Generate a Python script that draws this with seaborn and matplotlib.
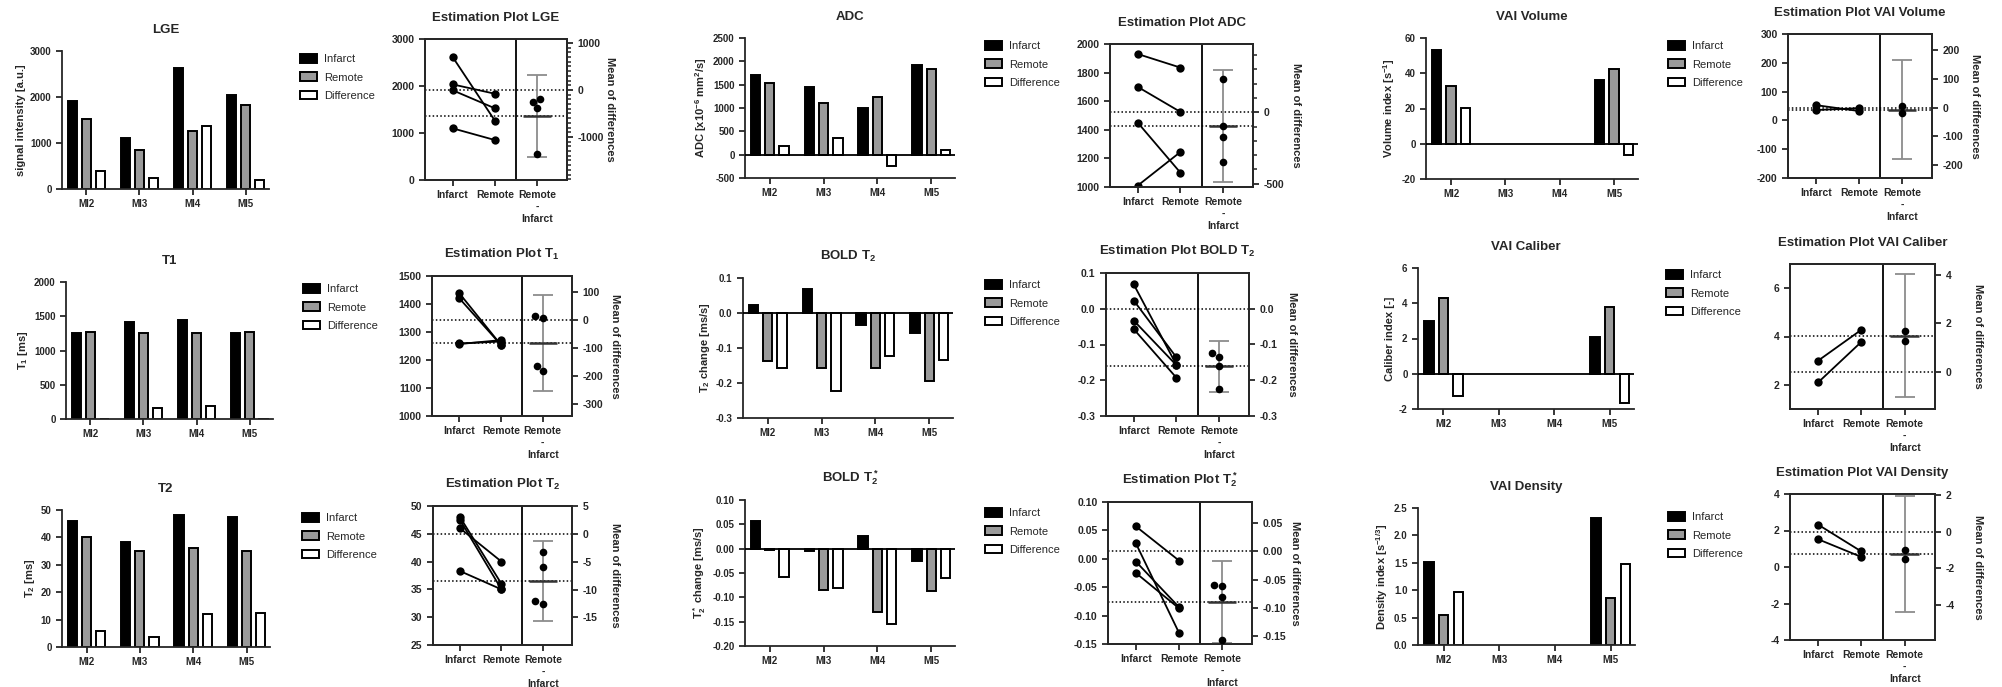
import numpy as np
import pandas as pd
import matplotlib
matplotlib.use('Agg')
import matplotlib.pyplot as plt
from matplotlib.ticker import MultipleLocator, FormatStrFormatter
import seaborn as sns

# data (MI2..MI5)
cases = ['MI2', 'MI3', 'MI4', 'MI5']
groups = ['Infarct', 'Remote', 'Difference']

lge_infarct = [1910, 1100, 2620, 2035]
lge_remote = [1525, 850, 1260, 1835]
lge_diff = [385, 250, 1360, 200]

t1_infarct = [1259, 1421, 1439, 1257]
t1_remote = [1266, 1254, 1254, 1271]
t1_diff = [-7, 167, 185, -14]

t2_infarct = [46, 38.3, 48, 47.5]
t2_remote = [40, 35, 36, 35]
t2_diff = [6, 3.5, 12, 12.5]

adc_infarct = [1700, 1450, 1010, 1930]
adc_remote = [1525, 1100, 1245, 1835]
adc_diff = [175, 350, -235, 95]

bold_infarct = [0.023, 0.068, -0.033, -0.057]
bold_remote = [-0.136, -0.157, -0.158, -0.193]
bold_diff = [-0.158, -0.224, -0.124, -0.135]

bolds_infarct = [0.057, -0.005, 0.027, -0.025]
bolds_remote = [-0.003, -0.085, -0.13, -0.087]
bolds_diff = [-0.058, -0.08, -0.155, -0.061]

vol_infarct = [53, np.nan, np.nan, 36]
vol_remote = [32.5, np.nan, np.nan, 42.5]
vol_diff = [20.5, np.nan, np.nan, -6.5]

cal_infarct = [3.0, np.nan, np.nan, 2.1]
cal_remote = [4.28, np.nan, np.nan, 3.78]
cal_diff = [-1.25, np.nan, np.nan, -1.65]

den_infarct = [1.52, np.nan, np.nan, 2.32]
den_remote = [0.55, np.nan, np.nan, 0.85]
den_diff = [0.97, np.nan, np.nan, 1.47]

bar_colors = {'Infarct': 'black', 'Remote': '#9a9a9a', 'Difference': 'white'}
t_crit = {2: 12.706, 3: 4.303, 4: 3.182}

sns.set_style('ticks')
plt.rcParams['font.family'] = ['Liberation Sans', 'DejaVu Sans']
plt.rcParams['font.weight'] = 'bold'
plt.rcParams['axes.labelweight'] = 'bold'
plt.rcParams['axes.titleweight'] = 'bold'
plt.rcParams['mathtext.default'] = 'regular'
plt.rcParams['axes.unicode_minus'] = False
plt.rcParams['axes.linewidth'] = 1.3

W, H = 2002, 687
fig = plt.figure(figsize=(W / 100, H / 100), dpi=100, facecolor='white')


def frac(box):
    l, t, r, b = box
    return [l / W, 1 - b / H, (r - l) / W, (b - t) / H]


def bar_panel(box, title, ylabel, infarct, remote, diff, ylim, step, fmt, leg_xy):
    ax = fig.add_axes(frac(box))
    df = pd.DataFrame({'case': cases * 3,
                       'group': np.repeat(groups, len(cases)),
                       'value': list(infarct) + list(remote) + list(diff)}).dropna()
    sns.barplot(data=df, x='case', y='value', hue='group', order=cases, hue_order=groups,
                palette=bar_colors, saturation=1, width=0.8, gap=0.35, errorbar=None,
                edgecolor='black', linewidth=1.4, ax=ax)
    if ylim[0] < 0:
        ax.axhline(0, color='black', lw=1.3, zorder=3)
    ax.set_ylim(ylim)
    ax.set_xlim(-0.46, 3.44)
    ax.yaxis.set_major_locator(MultipleLocator(step))
    ax.yaxis.set_major_formatter(FormatStrFormatter(fmt))
    ax.tick_params(length=4, width=1.3, labelsize=7)
    ax.set_xlabel('')
    ax.set_ylabel(ylabel, fontsize=8, labelpad=3)
    ax.set_title(title, fontsize=9.5, pad=13)
    sns.despine(ax=ax)
    sns.move_legend(ax, 'upper left', bbox_to_anchor=(leg_xy[0] / W, 1 - leg_xy[1] / H),
                    bbox_transform=fig.transFigure, frameon=False, title=None,
                    prop={'weight': 'normal', 'size': 8}, handlelength=1.5, handleheight=0.8,
                    handletextpad=0.7, labelspacing=0.75, borderpad=0, borderaxespad=0)
    return ax


def est_panel(box, title, infarct, remote, ylim, step, fmt, rstep, rfmt, rminor=None):
    ax = fig.add_axes(frac(box))
    inf = np.array(infarct, float)
    rem = np.array(remote, float)
    keep = ~np.isnan(inf)
    inf, rem = inf[keep], rem[keep]
    n = len(inf)
    d = rem - inf
    pairs = pd.DataFrame({'case': np.tile(np.arange(n), 2),
                          'pos': np.repeat([0, 1], n),
                          'value': np.concatenate([inf, rem])})
    sns.lineplot(data=pairs, x='pos', y='value', units='case', estimator=None, color='black',
                 lw=1.3, marker='o', markersize=6, markeredgewidth=0, legend=False, ax=ax)
    base = inf.mean()
    mean_d = d.mean()
    ax.axhline(base, ls=(0, (1, 1.5)), color='black', lw=1.1)
    ax.axhline(base + mean_d, ls=(0, (1, 1.5)), color='black', lw=1.1)
    ax.axvline(1.5, color='black', lw=1.3)

    ax2 = ax.twinx()
    half = t_crit[n] * d.std(ddof=1) / np.sqrt(n)
    ax2.errorbar(2, mean_d, yerr=half, color='#8c8c8c', capsize=7, lw=1.3, capthick=1.3, zorder=1)
    ax2.hlines(mean_d, 2 - 0.33, 2 + 0.33, color='#333333', lw=1.8, zorder=2)
    sns.swarmplot(x=np.full(n, 2.0), y=d, native_scale=True, orient='x', color='black',
                  size=5.5, ax=ax2, zorder=3)

    ax.set_ylim(ylim)
    ax2.set_ylim(ylim[0] - base, ylim[1] - base)
    ax.set_xlim(-0.65, 2.7)
    ax.set_xticks([0, 1, 2], ['Infarct', 'Remote', 'Remote\n-\nInfarct'])
    ax.yaxis.set_major_locator(MultipleLocator(step))
    ax.yaxis.set_major_formatter(FormatStrFormatter(fmt))
    ax2.yaxis.set_major_locator(MultipleLocator(rstep))
    ax2.yaxis.set_major_formatter(FormatStrFormatter(rfmt))
    if rminor:
        ax2.yaxis.set_minor_locator(MultipleLocator(rminor))
        ax2.tick_params(which='minor', length=3, width=1.1)
    ax.tick_params(length=4, width=1.3, labelsize=7.5)
    ax2.tick_params(which='major', length=4, width=1.3, labelsize=7.5)
    ax.set_xlabel('')
    ax.set_ylabel('')
    ax2.set_ylabel('Mean of differences', rotation=270, fontsize=8, va='center', ha='center')
    ax2.yaxis.set_label_coords(1 + 43 / (box[2] - box[0]), 0.5)
    ax.set_title(title, fontsize=9.5, pad=13)
    return ax


# row 1
bar_panel((62, 51, 269, 189), 'LGE', 'signal intensity [a.u.]',
          lge_infarct, lge_remote, lge_diff, (0, 3000), 1000, '%d', (300, 54))
est_panel((425, 39, 567, 180), 'Estimation Plot LGE', lge_infarct, lge_remote,
          (0, 3000), 1000, '%d', 1000, '%d', rminor=100)
bar_panel((745, 38, 955, 178), 'ADC', 'ADC [x10$^{-6}$ mm$^2$/s]',
          adc_infarct, adc_remote, adc_diff, (-500, 2500), 500, '%d', (985, 41))
est_panel((1110, 44, 1253, 187), 'Estimation Plot ADC', adc_infarct, adc_remote,
          (1000, 2000), 200, '%d', 500, '%d', rminor=100)
bar_panel((1426, 38, 1638, 179), 'VAI Volume', 'Volume index [s$^{-1}$]',
          vol_infarct, vol_remote, vol_diff, (-20, 60), 20, '%d', (1668, 41))
est_panel((1788, 34, 1932, 178), 'Estimation Plot VAI Volume', vol_infarct, vol_remote,
          (-200, 300), 100, '%d', 100, '%d')

# row 2
bar_panel((66, 282, 273, 419), 'T1', 'T$_1$ [ms]',
          t1_infarct, t1_remote, t1_diff, (0, 2000), 500, '%d', (303, 284))
est_panel((432, 276, 572, 416), 'Estimation Plot T$_1$', t1_infarct, t1_remote,
          (1000, 1500), 100, '%d', 100, '%d')
bar_panel((743, 278, 953, 418), 'BOLD T$_2$', 'T$_2$ change [ms/s]',
          bold_infarct, bold_remote, bold_diff, (-0.3, 0.1), 0.1, '%.1f', (985, 280))
est_panel((1106, 273, 1249, 416), 'Estimation Plot BOLD T$_2$', bold_infarct, bold_remote,
          (-0.3, 0.1), 0.1, '%.1f', 0.1, '%.1f')
bar_panel((1418, 268, 1634, 409), 'VAI Caliber', 'Caliber index [-]',
          cal_infarct, cal_remote, cal_diff, (-2, 6), 2, '%d', (1666, 270))
est_panel((1790, 264, 1935, 409), 'Estimation Plot VAI Caliber', cal_infarct, cal_remote,
          (1, 7), 2, '%d', 2, '%d')

# row 3
bar_panel((62, 510, 270, 647), 'T2', 'T$_2$ [ms]',
          t2_infarct, t2_remote, t2_diff, (0, 50), 10, '%d', (302, 513))
est_panel((433, 506, 572, 645), 'Estimation Plot T$_2$', t2_infarct, t2_remote,
          (25, 50), 5, '%d', 5, '%d')
bar_panel((745, 500, 955, 646), 'BOLD T$_2^*$', 'T$_2^*$ change [ms/s]',
          bolds_infarct, bolds_remote, bolds_diff, (-0.2, 0.1), 0.05, '%.2f', (985, 508))
est_panel((1108, 502, 1252, 644), 'Estimation Plot T$_2^*$', bolds_infarct, bolds_remote,
          (-0.15, 0.1), 0.05, '%.2f', 0.05, '%.2f')
bar_panel((1418, 508, 1635, 645), 'VAI Density', 'Density index [s$^{-1/3}$]',
          den_infarct, den_remote, den_diff, (0, 2.5), 0.5, '%.1f', (1668, 512))
est_panel((1790, 494, 1935, 640), 'Estimation Plot VAI Density', den_infarct, den_remote,
          (-4, 4), 2, '%d', 2, '%d')

fig.savefig('out.png', dpi=100, facecolor='white')
